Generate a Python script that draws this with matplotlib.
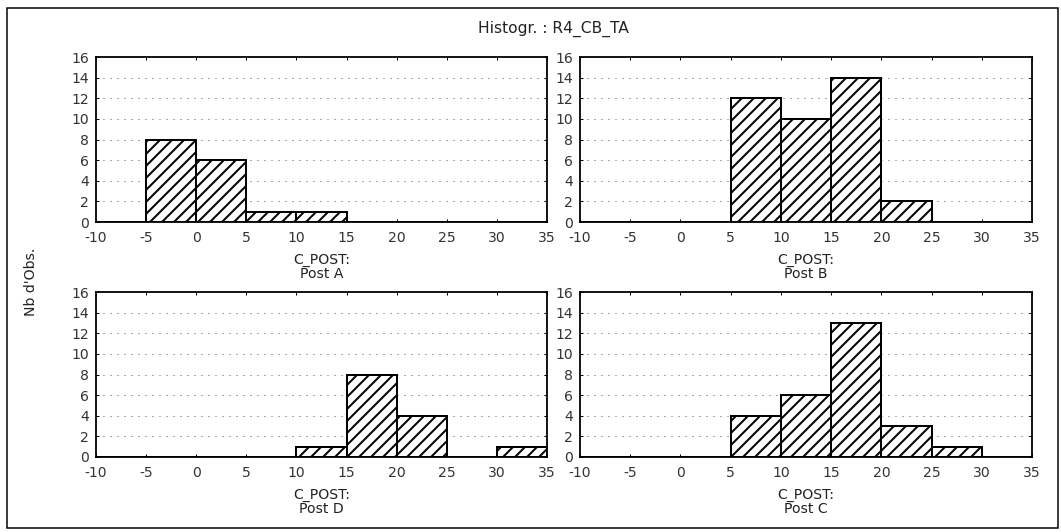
import matplotlib
matplotlib.use("Agg")
import matplotlib.pyplot as plt
from matplotlib.patches import Rectangle
from matplotlib.transforms import offset_copy

# Data
bin_edges = [-10, -5, 0, 5, 10, 15, 20, 25, 30, 35]
counts_post_a = [0, 8, 6, 1, 1, 0, 0, 0, 0]
counts_post_b = [0, 0, 0, 12, 10, 14, 2, 0, 0]
counts_post_d = [0, 0, 0, 0, 1, 8, 4, 0, 1]
counts_post_c = [0, 0, 0, 4, 6, 13, 3, 1, 0]
panel_names = ["Post A", "Post B", "Post D", "Post C"]
x_ticks = [-10, -5, 0, 5, 10, 15, 20, 25, 30, 35]
y_ticks = [0, 2, 4, 6, 8, 10, 12, 14, 16]
title = "Histogr. : R4_CB_TA"
y_label = "Nb d'Obs."
x_label = "C_POST:"

W, H = 1061, 532
DPI = 72
plt.rcParams['font.family'] = ['DejaVu Sans']
plt.rcParams['axes.unicode_minus'] = False
plt.rcParams['hatch.linewidth'] = 2.0
plt.rcParams['hatch.color'] = 'black'

fig = plt.figure(figsize=(W / DPI, H / DPI), dpi=DPI)
fig.patch.set_facecolor('white')

# outer frame
fig.patches.append(Rectangle((7 / W, 1 - 528 / H), (1058 - 7) / W, (528 - 8) / H,
                             transform=fig.transFigure, fill=False,
                             edgecolor='black', linewidth=1.5))

boxes = [(96, 547, 57, 222), (580, 1032, 57, 222),
         (96, 547, 292, 457), (580, 1032, 292, 457)]
all_counts = [counts_post_a, counts_post_b, counts_post_d, counts_post_c]

widths = [bin_edges[i + 1] - bin_edges[i] for i in range(len(bin_edges) - 1)]
lefts = bin_edges[:-1]

for (l, r, t, b), counts, name in zip(boxes, all_counts, panel_names):
    ax = fig.add_axes([l / W, 1 - b / H, (r - l) / W, (b - t) / H])
    ax.set_xlim(-10, 35)
    ax.set_ylim(0, 16)
    for yv in y_ticks[1:-1]:
        ax.axhline(yv, color='#555555', linestyle=(0, (1, 6)), linewidth=1.0, zorder=0)
    ax.bar(lefts, counts, width=widths, align='edge', color='white',
           edgecolor='black', linewidth=2, hatch='//', zorder=2)
    ax.set_xticks(x_ticks)
    ax.set_yticks(y_ticks)
    ax.tick_params(direction='in', length=3, width=1, top=True, right=True,
                   labelsize=14, labelcolor='#333333')
    ax.tick_params(axis='x', pad=9)
    ax.tick_params(axis='y', pad=7)
    for s in ax.spines.values():
        s.set_linewidth(1.8)
    ax.text(0.5, 0, x_label, ha='center', va='center', fontsize=14, color='#222222',
            transform=offset_copy(ax.transAxes, fig=fig, y=-38, units='points'))
    ax.text(0.5, 0, name, ha='center', va='center', fontsize=14, color='#222222',
            transform=offset_copy(ax.transAxes, fig=fig, y=-52, units='points'))

fig.text(553 / W, 1 - 29 / H, title, ha='center', va='center',
         fontsize=15.5, color='#222222')
fig.text(31 / W, 1 - 282 / H, y_label, ha='center', va='center',
         rotation=90, fontsize=14, color='#222222')

fig.savefig("out.png", dpi=DPI, facecolor='white')
